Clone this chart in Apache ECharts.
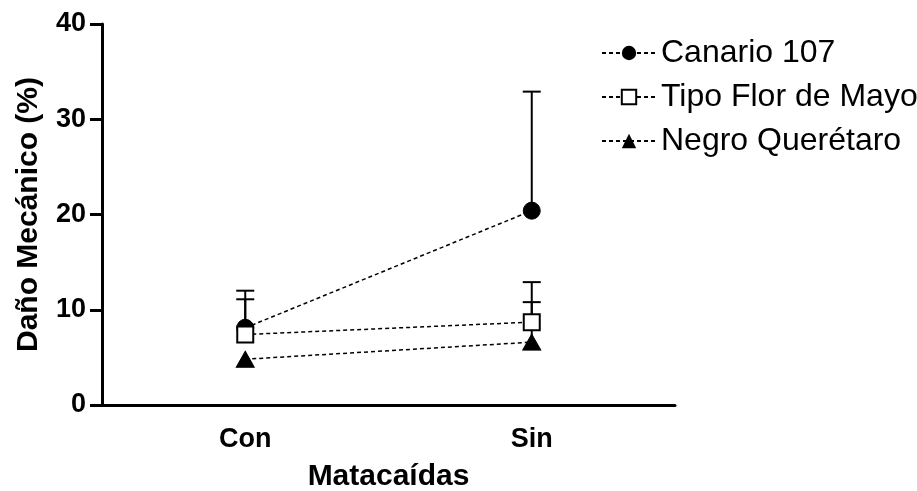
<!DOCTYPE html>
<html><head><meta charset="utf-8">
<script src="https://cdn.jsdelivr.net/npm/echarts@6/dist/echarts.min.js"></script>
<style>html,body{margin:0;padding:0;background:#fff}#c{width:917px;height:491px}</style>
</head><body><div id="c"></div>
<script>
var categories = ['Con', 'Sin'];
var seriesNames = ['Canario 107', 'Tipo Flor de Mayo', 'Negro Querétaro'];
var canario = [8.1, 20.4];
var canarioErr = [12.0, 32.9];
var tipoFlor = [7.4, 8.7];
var tipoFlorErr = [11.1, 12.9];
var negro = [4.8, 6.6];
var negroErr = [null, 10.8];
var yTicks = [0, 10, 20, 30, 40];

var font = 'Liberation Sans, Arial, sans-serif';
var chart = echarts.init(document.getElementById('c'));

function errSeries(means, tops) {
  var data = [];
  for (var i = 0; i < means.length; i++) {
    if (tops[i] != null) data.push([i, means[i], tops[i]]);
  }
  return {
    type: 'custom', silent: true, z: 1,
    data: data,
    renderItem: function (params, api) {
      var x = api.value(0);
      var p0 = api.coord([x, api.value(1)]);
      var p1 = api.coord([x, api.value(2)]);
      var hw = 9;
      var st = { stroke: '#000', lineWidth: 2 };
      return { type: 'group', children: [
        { type: 'line', shape: { x1: p0[0], y1: p0[1], x2: p1[0], y2: p1[1] }, style: st },
        { type: 'line', shape: { x1: p1[0] - hw, y1: p1[1], x2: p1[0] + hw, y2: p1[1] }, style: st }
      ]};
    }
  };
}

var lineStyle = { color: '#000', width: 1.5, type: [4, 3] };

chart.setOption({
  animation: false,
  backgroundColor: '#fff',
  grid: { left: 102, right: 242, top: 24, bottom: 86, outerBoundsMode: 'none', containLabel: false },
  legend: {
    orient: 'vertical', left: 596, top: 32, itemGap: 12,
    itemWidth: 54, itemHeight: 18,
    textStyle: { fontFamily: font, fontSize: 32, lineHeight: 32, color: '#000' },
    data: seriesNames
  },
  xAxis: {
    type: 'category', data: categories, boundaryGap: true,
    name: 'Matacaídas', nameLocation: 'middle', nameGap: 57,
    nameTextStyle: { fontFamily: font, fontSize: 30, fontWeight: 'bold', color: '#000' },
    axisLine: { lineStyle: { color: '#000', width: 3 } },
    axisTick: { alignWithLabel: true, length: 7, lineStyle: { color: '#000', width: 3 } },
    axisLabel: { fontFamily: font, fontSize: 27, fontWeight: 'bold', color: '#000', margin: 21 },
    splitLine: { show: false }
  },
  yAxis: {
    type: 'value', min: 0, max: 40, interval: 10,
    name: 'Daño Mecánico (%)', nameLocation: 'middle', nameGap: 58,
    nameTextStyle: { fontFamily: font, fontSize: 30, fontWeight: 'bold', color: '#000' },
    axisLine: { show: true, lineStyle: { color: '#000', width: 3 } },
    axisTick: { show: true, length: 12, lineStyle: { color: '#000', width: 3 } },
    axisLabel: { fontFamily: font, fontSize: 27, fontWeight: 'bold', color: '#000', margin: 16,
      formatter: function (v) { return yTicks.indexOf(v) >= 0 ? String(v) : ''; } },
    splitLine: { show: false }
  },
  series: [
    errSeries(canario, canarioErr),
    errSeries(tipoFlor, tipoFlorErr),
    errSeries(negro, negroErr),
    { name: seriesNames[0], type: 'line', data: canario, z: 3,
      symbol: 'circle', symbolSize: 17,
      itemStyle: { color: '#000', borderColor: '#000' }, lineStyle: lineStyle },
    { name: seriesNames[1], type: 'line', data: tipoFlor, z: 4,
      symbol: 'rect', symbolSize: 16,
      itemStyle: { color: '#fff', borderColor: '#000', borderWidth: 2 }, lineStyle: lineStyle },
    { name: seriesNames[2], type: 'line', data: negro, z: 5,
      symbol: 'triangle', symbolSize: [18, 16],
      itemStyle: { color: '#000', borderColor: '#000' }, lineStyle: lineStyle }
  ]
});
</script></body></html>
